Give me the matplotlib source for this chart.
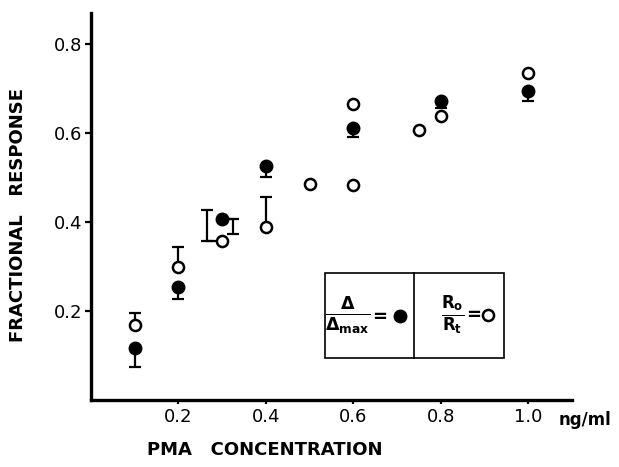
import numpy as np
import matplotlib
matplotlib.use("Agg")
import matplotlib.pyplot as plt
from matplotlib.patches import Rectangle

# filled circles: delta / delta_max, error bars pointing down
filled_x = [0.1, 0.2, 0.3, 0.4, 0.6, 0.8, 1.0]
filled_y = [0.115, 0.253, 0.406, 0.525, 0.611, 0.671, 0.694]
filled_err = [0.041, 0.027, 0.033, 0.025, 0.022, 0.015, 0.023]

# open circles: Ro / Rt, error bars pointing up
open_x = [0.1, 0.2, 0.3, 0.4, 0.5, 0.6, 0.6, 0.75, 0.8, 1.0]
open_y = [0.167, 0.298, 0.357, 0.387, 0.484, 0.664, 0.482, 0.606, 0.637, 0.733]
open_err = [0.028, 0.045, 0.069, 0.069, 0, 0, 0, 0, 0, 0]

xticks = [0.2, 0.4, 0.6, 0.8, 1.0]
yticks = [0.2, 0.4, 0.6, 0.8]

# the 0.3 bars are drawn beside the points (bracket style)
bracket_dx = 0.026

plt.rcParams['font.family'] = 'DejaVu Sans'
plt.rcParams['mathtext.default'] = 'bf'

fig = plt.figure(figsize=(6.19, 4.67), dpi=100)
ax = fig.add_axes([0.1467, 0.1445, 0.7774, 0.8276])

fx = np.array(filled_x)
fy = np.array(filled_y)
fe = np.array(filled_err)
ox = np.array(open_x)
oy = np.array(open_y)
oe = np.array(open_err)

fshift = np.where(np.isclose(fx, 0.3), bracket_dx, 0.0)
oshift = np.where(np.isclose(ox, 0.3), -bracket_dx * 1.3, 0.0)

# error bars
m = fe > 0
ax.errorbar(fx[m] + fshift[m], fy[m], yerr=[fe[m], np.zeros(m.sum())], fmt='none',
            ecolor='black', elinewidth=1.6, capsize=4, capthick=1.6, zorder=2)
m = oe > 0
ax.errorbar(ox[m] + oshift[m], oy[m], yerr=[np.zeros(m.sum()), oe[m]], fmt='none',
            ecolor='black', elinewidth=1.6, capsize=4, capthick=1.6, zorder=2)

# bracket connectors at 0.3
for x, y, s in zip(fx, fy, fshift):
    if s != 0:
        ax.plot([x, x + s], [y, y], color='black', lw=1.6, zorder=2)
for x, y, s in zip(ox, oy, oshift):
    if s != 0:
        ax.plot([x + s, x], [y, y], color='black', lw=1.6, zorder=2)

ax.plot(ox, oy, 'o', ms=8, mfc='white', mec='black', mew=1.8, ls='none', zorder=3)
ax.plot(fx, fy, 'o', ms=9, mfc='black', mec='black', ls='none', zorder=3)

ax.set_xlim(0, 1.1)
ax.set_ylim(0, 0.8685)
ax.set_xticks(xticks)
ax.set_yticks(yticks)
ax.set_xticklabels([f"{v:.1f}" for v in xticks], fontsize=13)
ax.set_yticklabels([f"{v:.1f}" for v in yticks], fontsize=13)
ax.tick_params(axis='x', direction='out', length=3, width=1.6, pad=3)
ax.tick_params(axis='y', direction='out', length=4, width=1.6, pad=2)

for s in ['top', 'right']:
    ax.spines[s].set_visible(False)
for s in ['left', 'bottom']:
    ax.spines[s].set_linewidth(2.4)

# legend box
ax.add_patch(Rectangle((0.536, 0.093), 0.408, 0.191, fill=False, lw=1.2, ec='black', zorder=4))
ax.plot([0.739, 0.739], [0.093, 0.284], color='black', lw=1.2, zorder=4)
ax.text(0.588, 0.188, r'$\frac{\Delta}{\Delta_{max}}$', fontsize=18, ha='center', va='center')
ax.text(0.660, 0.186, '=', fontsize=13, fontweight='bold', ha='center', va='center')
ax.plot([0.707], [0.188], 'o', ms=9, color='black', zorder=5)
ax.text(0.828, 0.19, r'$\frac{R_o}{R_t}$', fontsize=17, ha='center', va='center')
ax.text(0.876, 0.19, '=', fontsize=13, fontweight='bold', ha='center', va='center')
ax.plot([0.907], [0.19], 'o', ms=8, mfc='white', mec='black', mew=1.8, zorder=5)

fig.text(0.029, 0.54, 'FRACTIONAL   RESPONSE', rotation=90, fontsize=13,
         fontweight='bold', ha='center', va='center')
fig.text(0.428, 0.036, 'PMA   CONCENTRATION', fontsize=13, fontweight='bold',
         ha='center', va='center')
fig.text(0.945, 0.101, 'ng/ml', fontsize=12, fontweight='bold', ha='center', va='center')

fig.savefig('out.png', dpi=100)
